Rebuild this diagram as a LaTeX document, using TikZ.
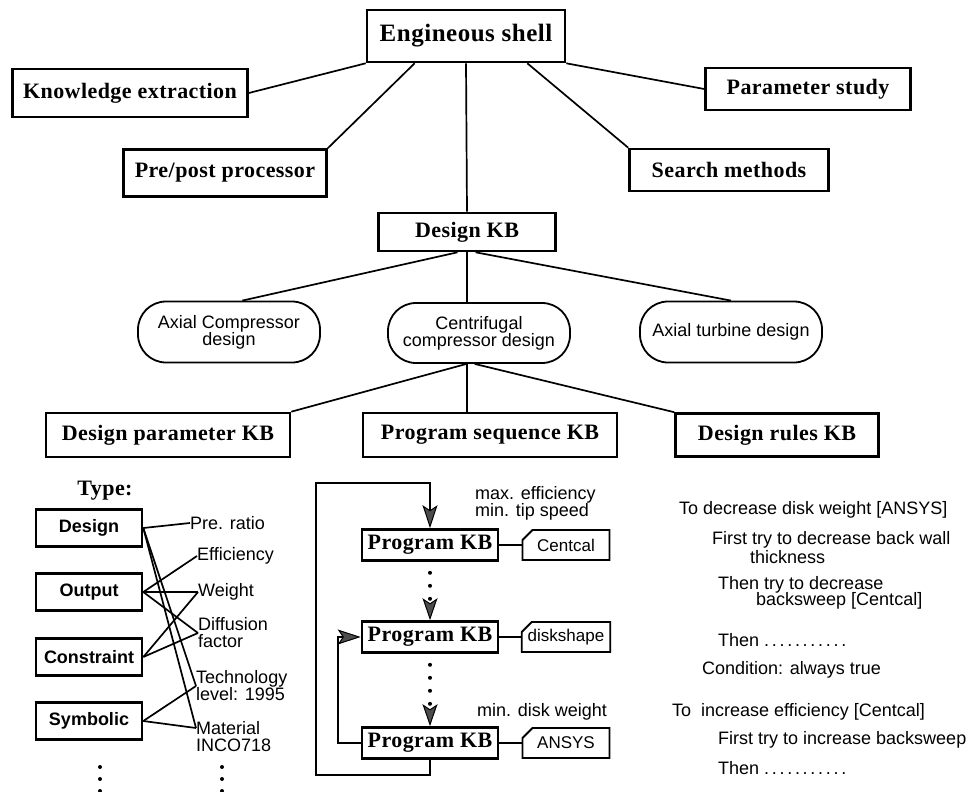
\documentclass[tikz,border=0pt]{standalone}
\usepackage{fontspec}
\setmainfont{Liberation Serif}
\newfontfamily\kbfont[LetterSpace=2]{Liberation Serif}
\newfontfamily\lblfont{Liberation Sans}
\usetikzlibrary{arrows.meta}
\usetikzlibrary{shapes.misc}

\begin{document}
\begin{tikzpicture}
[x=1pt,y=-1pt,
  kbbox/.style={draw,line width=2.6pt,inner sep=2pt,minimum height=44pt,
    font=\kbfont\bfseries\fontsize{22}{24}\selectfont},
  designbox/.style={draw,line width=1.8pt,rounded corners=28pt,minimum height=61pt,
    minimum width=182pt,inner sep=1pt,align=center,font=\lblfont\fontsize{18}{17}\selectfont},
  typebox/.style={draw,line width=2.6pt,minimum width=106pt,minimum height=37pt,inner sep=1pt,
    font=\lblfont\bfseries\fontsize{18}{20}\selectfont},
  progbox/.style={draw,line width=2.6pt,minimum width=136pt,minimum height=31pt,inner sep=1pt,
    font=\kbfont\bfseries\fontsize{22}{24}\selectfont},
  toolbox/.style={draw,line width=1.8pt,chamfered rectangle,chamfered rectangle corners=north west,
    chamfered rectangle xsep=5pt,chamfered rectangle ysep=5pt,minimum width=87pt,minimum height=30pt,
    inner sep=1pt,font=\lblfont\fontsize{17}{19}\selectfont},
  lbl/.style={anchor=west,inner sep=0pt,align=left,font=\lblfont\fontsize{18}{17}\selectfont},
  linedecorate/.style={-,line width=1.7pt},
  flow/.style={line width=1.7pt,-{Stealth[length=23pt,width=15pt,inset=5pt,fill=black!70,line width=1pt]}},
  dotflow/.style={line width=4pt,line cap=round,dash pattern=on 0pt off 13pt,shorten <=11pt,
    -{Stealth[length=22pt,width=15pt,inset=5pt,fill=black!70,line width=1pt]}}]
\useasboundingbox (0,0) rectangle (975,792);
%% tree nodes
\node (eng) at (466,36) [kbbox,minimum width=198pt,minimum height=52pt,
  font=\kbfont\bfseries\fontsize{25}{27}\selectfont] {Engineous shell};
\node (kex) at (130,93) [kbbox,minimum width=235pt,minimum height=48pt] {Knowledge extraction};
\node (par) at (808,89) [kbbox,minimum width=205pt,minimum height=42pt] {Parameter study};
\node (pre) at (225,173) [kbbox,minimum width=203pt,minimum height=47pt] {Pre/post processor};
\node (sea) at (729,170) [kbbox,minimum width=199pt,minimum height=42pt] {Search methods};
\node (dkb) at (467,232) [kbbox,minimum width=177pt,minimum height=38pt] {Design KB};
\node (axc) at (229,332) [designbox] {Axial Compressor\\design};
\node (cen) at (479,333) [designbox,minimum height=60pt] {Centrifugal\\compressor design};
\node (axt) at (731,332) [designbox] {Axial turbine design};
\node (dpk) at (168,435) [kbbox,minimum width=244pt] {Design parameter KB};
\node (psk) at (490,435) [kbbox,minimum width=254pt] {Program sequence KB};
\node (drk) at (777,435) [kbbox,minimum width=203pt,minimum height=43pt] {Design rules KB};
%% tree edges
\path
\foreach \startnode/\endnode in {eng.south west/kex.east, eng.208/pre.north east,
  eng.south east/par.west, eng.336/sea.north west, dkb.245/axc.67, dkb.293/axt.north,
  cen.248/dpk.north east, cen.262/drk.north west}
{
  (\startnode) edge[linedecorate] (\endnode)
};
\draw[linedecorate] (eng.south) -- (dkb.north);
\draw[linedecorate] (dkb.south) -- (dkb.south |- cen.north);
\draw[linedecorate] (cen.south -| dkb.south) -- (psk.north -| dkb.south);
%% parameter types
\node (typ) at (105,491) [inner sep=0pt,font=\kbfont\bfseries\fontsize{22}{24}\selectfont] {Type:};
\foreach \nodename/\y/\txt in {tDes/528/Design, tOut/592/Output, tCon/657/Constraint, tSym/721/Symbolic}
{
  \node (\nodename) at (89,\y) [typebox] {\txt};
}
\node (prr) at (190,523) [lbl] {Pre. ratio};
\node (eff) at (197,556) [lbl] {Efficiency};
\node (wgt) at (198,592) [lbl] {Weight};
\node (dif) at (198,633) [lbl] {Diffusion\\factor};
\node (tec) at (196,686) [lbl] {Technology\\level: 1995};
\node (mat) at (196,737) [lbl] {Material\\INCO718};
\path
\foreach \startnode/\endnode in {tDes.east/prr.west, tDes.east/tec.west, tOut.east/eff.west,
  tOut.east/wgt.west, tOut.east/dif.west, tCon.east/wgt.west, tCon.east/dif.west,
  tSym.east/tec.west}
{
  (\startnode) edge[linedecorate] (\endnode)
};
\draw[linedecorate] (tDes.east) -- ([yshift=9pt]mat.west);
\draw[linedecorate] (tSym.east) -- ([yshift=9pt]mat.west);
\foreach \y in {767,779,791}
{
  \fill (100,\y) circle (2);
  \fill (222,\y) circle (2);
}
%% program sequence
\node (pkA) at (430,545) [progbox] {Program KB};
\node (pkB) at (430,637) [progbox] {Program KB};
\node (pkC) at (430,743) [progbox] {Program KB};
\node (cA) at (566,545) [toolbox] {Centcal};
\node (cB) at (566,637) [toolbox] {diskshape};
\node (cC) at (566,743) [toolbox] {ANSYS};
\node (objA) at (475,503) [lbl] {max. efficiency\\min. tip speed};
\node (objC) at (477,712) [lbl] {min. disk weight};
\coordinate (loopbl) at (316,775);
\coordinate (looptl) at (316,483);
\foreach \startnode/\endnode in {pkA/cA, pkB/cB, pkC/cC}
{
  \draw[linedecorate] (\startnode.east) -- (\endnode.west);
}
\draw[dotflow] (pkA.south) -- (pkB.north);
\draw[dotflow] (pkB.south) -- (pkC.north);
\draw[flow] (pkC.west) -- ++(-23,0) |- (pkB.west);
\draw[flow] (pkC.south) |- (loopbl) -- (looptl) -| (pkA.north);
%% design rules
\node (r1) at (679,510) [lbl] {To decrease disk weight [ANSYS]};
\node (r2) at (712,540) [lbl] {First try to decrease back wall};
\node (r3) at (750,557) [lbl] {thickness};
\node (r4) at (718,585) [lbl] {Then try to decrease};
\node (r5) at (756,601) [lbl] {backsweep [Centcal]};
\node (r6) at (718,640) [lbl] {Then {\addfontfeature{LetterSpace=15}...........}};
\node (r7) at (702,670) [lbl] {Condition: always true};
\node (r8) at (672,712) [lbl] {To\ \ increase efficiency [Centcal]};
\node (r9) at (718,740) [lbl] {First try to increase backsweep};
\node (r10) at (718,768) [lbl] {Then {\addfontfeature{LetterSpace=15}...........}};
\end{tikzpicture}
\end{document}
